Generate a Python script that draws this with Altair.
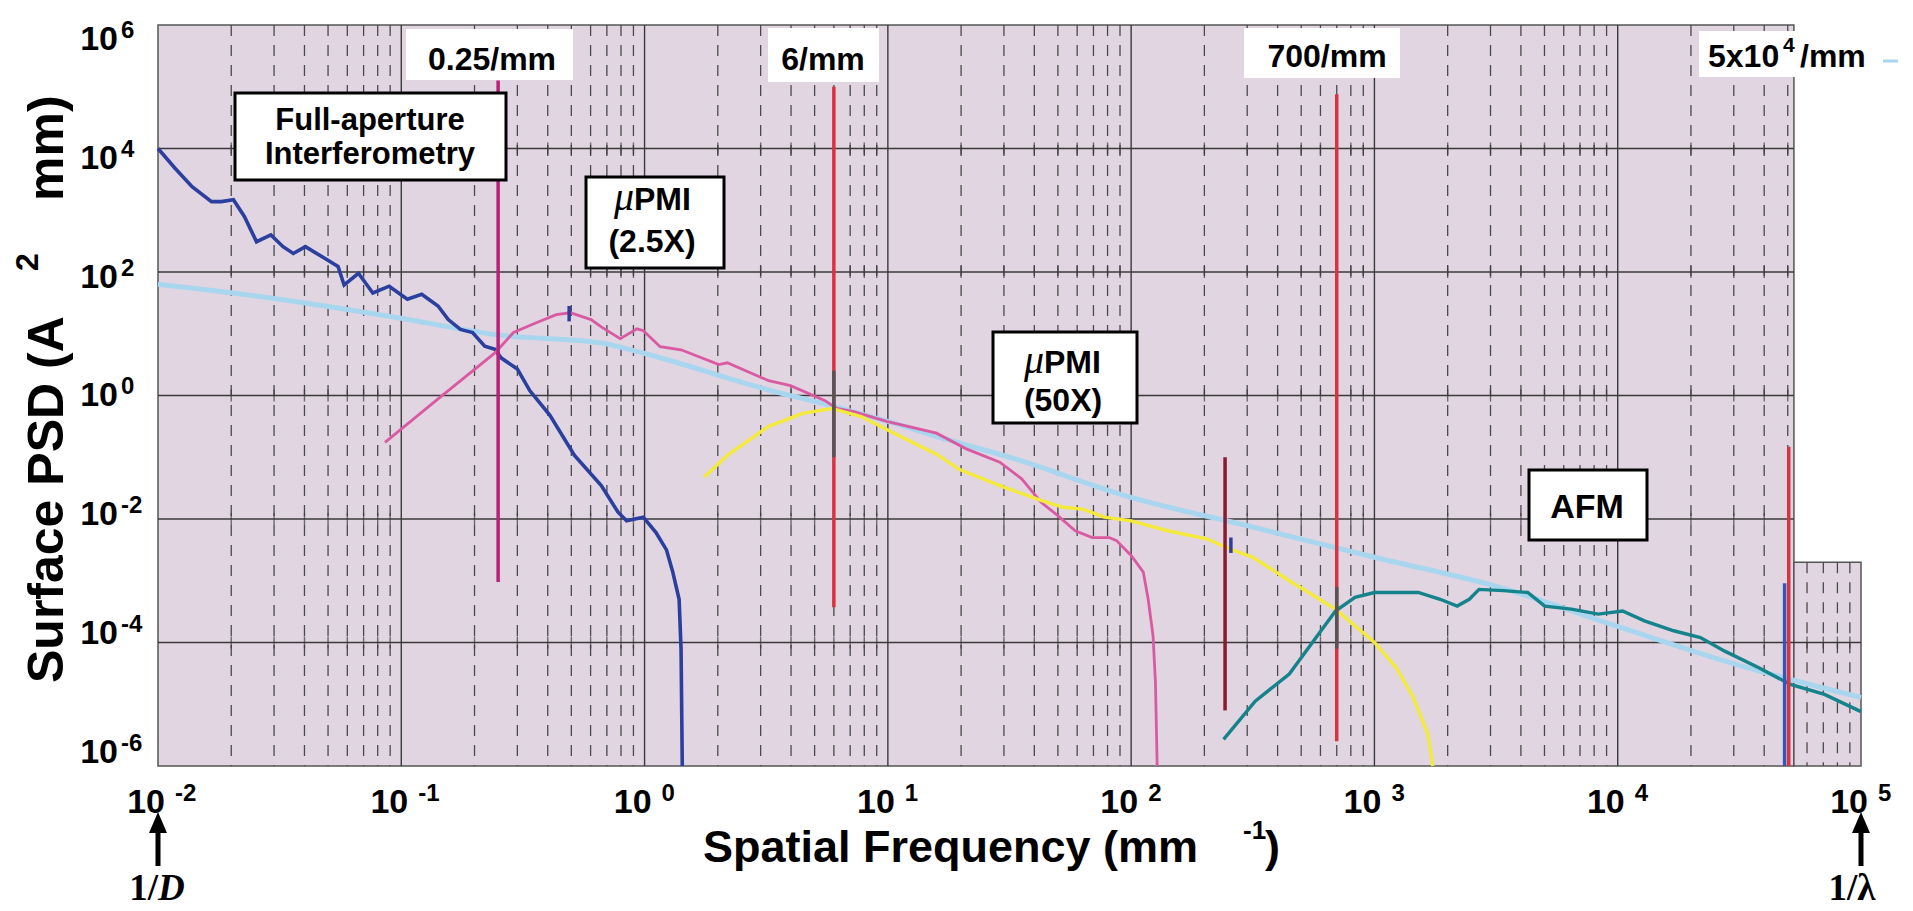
import altair as alt
import pandas as pd

# ---------------- values (log10 of frequency / PSD) ----------------
# Full-aperture interferometry (dark blue)
fa_lx = [-2.0, -1.93, -1.86, -1.78, -1.74, -1.69, -1.645, -1.595, -1.536, -1.486, -1.444, -1.394, -1.327,
         -1.26, -1.235, -1.176, -1.117, -1.05, -0.975, -0.916, -0.849, -0.807, -0.757, -0.707, -0.657, -0.615,
         -0.59, -0.523, -0.472, -0.389, -0.288, -0.178, -0.109, -0.074, -0.04, -0.005, 0.047, 0.09, 0.116,
         0.142, 0.15, 0.155]
fa_ly = [4.0, 3.68, 3.38, 3.14, 3.14, 3.17, 2.9, 2.49, 2.6, 2.41, 2.3, 2.41, 2.25, 2.09, 1.79, 1.98, 1.66,
         1.77, 1.56, 1.64, 1.45, 1.23, 1.07, 1.02, 0.8, 0.75, 0.61, 0.43, 0.08, -0.32, -0.97, -1.46, -1.89,
         -2.03, -2.0, -1.97, -2.22, -2.5, -2.86, -3.3, -4.11, -6.0]
# muPMI 2.5X (pink)
pk_lx = [-1.067, -0.85, -0.615, -0.539, -0.45, -0.363, -0.305, -0.22, -0.178, -0.10, -0.031, -0.005, 0.064,
         0.15, 0.305, 0.34, 0.51, 0.60, 0.74, 0.79, 0.86, 0.995, 1.2, 1.32, 1.46, 1.55, 1.63, 1.70, 1.77, 1.84,
         1.91, 1.94, 2.0, 2.05, 2.07, 2.09, 2.10, 2.107]
pk_ly = [-0.76, -0.06, 0.69, 1.02, 1.17, 1.31, 1.34, 1.23, 1.11, 0.92, 1.08, 1.05, 0.79, 0.74, 0.5, 0.53, 0.24,
         0.16, -0.08, -0.21, -0.26, -0.42, -0.61, -0.86, -1.08, -1.35, -1.73, -1.95, -2.19, -2.3, -2.3, -2.35,
         -2.59, -2.86, -3.3, -3.89, -4.65, -6.0]
# muPMI 50X (yellow)
ye_lx = [0.245, 0.34, 0.51, 0.65, 0.77, 0.89, 1.03, 1.2, 1.29, 1.46, 1.63, 1.72, 1.80, 1.89, 2.0, 2.15, 2.31,
         2.41, 2.5, 2.65, 2.84, 3.0, 3.09, 3.16, 3.22, 3.24]
ye_ly = [-1.32, -0.97, -0.5, -0.29, -0.21, -0.34, -0.62, -0.95, -1.19, -1.46, -1.70, -1.81, -1.84, -1.97, -2.03,
         -2.19, -2.32, -2.49, -2.62, -3.0, -3.46, -4.0, -4.41, -4.89, -5.49, -6.0]
# AFM (teal)
tl_lx = [2.38, 2.51, 2.65, 2.84, 2.92, 3.0, 3.18, 3.27, 3.34, 3.39, 3.43, 3.53, 3.63, 3.70, 3.81, 3.92, 4.02,
         4.11, 4.23, 4.34, 4.44, 4.58, 4.71, 4.85, 5.0]
tl_ly = [-5.57, -4.95, -4.51, -3.49, -3.27, -3.19, -3.19, -3.30, -3.41, -3.30, -3.14, -3.16, -3.19, -3.41, -3.46,
         -3.54, -3.49, -3.65, -3.81, -3.92, -4.14, -4.41, -4.68, -4.84, -5.12]
# fitted model (light blue)
lb_lx = [-2.0, -1.5, -1.0, -0.6, -0.178, 0.0, 0.5, 0.78, 1.0, 1.25, 1.5, 2.0, 2.5, 3.0, 3.5, 4.0, 4.5, 5.0]
lb_ly = [1.80, 1.56, 1.25, 0.98, 0.85, 0.68, 0.1, -0.18, -0.42, -0.72, -1.0, -1.65, -2.13, -2.62, -3.09, -3.74,
         -4.37, -4.89]
# vertical band-limit markers
mk_lx = [-0.602, 0.778, 0.778, 2.386, 2.41, 2.845, 2.845, 4.686, 4.703, -0.31]
mk_y1 = [-3.02, -3.43, -1.0, -5.1, -2.55, -5.6, -4.1, -6.0, -6.0, 1.2]
mk_y2 = [5.1, 5.0, 0.4, -1.0, -2.3, 4.88, -3.1, -3.04, -0.83, 1.45]
mk_kind = ["mag", "red", "gray", "maroon", "navy", "red", "gray", "blue", "red", "navy"]

x_decades = [-2, -1, 0, 1, 2, 3, 4, 5]
y_decades = [6, 4, 2, 0, -2, -4, -6]
x_tick_exp = ["-2", "-1", "0", "1", "2", "3", "4", "5"]
y_tick_exp = [" 6", " 4", " 2", "0", "-2", "-4", "-6"]

# ---------------- layout ----------------
W, H = 1703, 741
PL, PT = 158, 25
SANS = "Liberation Sans, Arial, sans-serif"
SERIF = "Liberation Serif, Times New Roman, serif"
BG = "#e1d5e2"
GRID = "#3a3a3a"
XMAXF = 5.3e4   # right edge of the upper frame
STEPY = 2e-3    # top of the right-hand extension

xs = alt.Scale(type="log", domain=[1e-2, 1e5], nice=False)
ys = alt.Scale(type="log", domain=[1e-6, 1e6], nice=False)


def X(f):
    return alt.X(f, type="quantitative", scale=xs, axis=None)


def Y(f):
    return alt.Y(f, type="quantitative", scale=ys, axis=None)


def curve(lx, ly):
    return pd.DataFrame({"f": [10 ** v for v in lx], "p": [10 ** v for v in ly], "i": list(range(len(lx)))})


def vx(x):  # page pixel -> view pixel
    return alt.value(x - PL)


def vy(y):
    return alt.value(y - PT)


dummy = pd.DataFrame({"a": [0]})
layers = []

# background frame
bg = pd.DataFrame({"x1": [1e-2, XMAXF], "x2": [XMAXF, 1e5], "y1": [1e-6, 1e-6], "y2": [1e6, STEPY]})
layers.append(alt.Chart(bg).mark_rect(fill=BG, stroke="#555555", strokeWidth=1.5).encode(
    x=X("x1"), x2=alt.X2("x2"), y=Y("y1"), y2=alt.Y2("y2")))

# minor dashed verticals
mx, mtop = [], []
for d in range(-2, 5):
    for k in range(2, 10):
        v = k * 10 ** d
        mx.append(v)
        mtop.append(1e6 if v < XMAXF else STEPY)
minor = pd.DataFrame({"x": mx, "top": mtop, "bot": [1e-6] * len(mx)})
layers.append(alt.Chart(minor).mark_rule(color="#4a4a4a", strokeWidth=1.3, strokeDash=[11, 9]).encode(
    x=X("x"), y=Y("top"), y2=alt.Y2("bot")))

# major verticals
majv = pd.DataFrame({"x": [10.0 ** d for d in range(-1, 5)], "t": [1e6] * 6, "b": [1e-6] * 6})
layers.append(alt.Chart(majv).mark_rule(color=GRID, strokeWidth=1.4).encode(
    x=X("x"), y=Y("t"), y2=alt.Y2("b")))
# major horizontals
hy = [1e4, 1e2, 1.0, 1e-2, 1e-4]
majh = pd.DataFrame({"y": hy, "x1": [1e-2] * 5, "x2": [XMAXF if v > STEPY else 1e5 for v in hy]})
layers.append(alt.Chart(majh).mark_rule(color=GRID, strokeWidth=1.6).encode(
    y=Y("y"), x=X("x1"), x2=alt.X2("x2")))
# small crosses where minor lines meet major horizontals
cx, cy = [], []
for v in hy:
    for m in mx:
        if v <= STEPY or m < XMAXF:
            cx.append(m)
            cy.append(v)
cross = pd.DataFrame({"x": cx, "y": cy})
layers.append(alt.Chart(cross).mark_tick(orient="vertical", size=12, thickness=1.4, color=GRID).encode(
    x=X("x"), y=Y("y")))

# curves
for lx, ly, col, sw, interp in [
    (lb_lx, lb_ly, "#a8d6ee", 5, "monotone"),
    (fa_lx, fa_ly, "#2b3f9e", 3.6, "linear"),
    (pk_lx, pk_ly, "#da5aa2", 2.8, "linear"),
    (ye_lx, ye_ly, "#f3ea3c", 3.4, "linear"),
    (tl_lx, tl_ly, "#14838b", 3.4, "linear"),
]:
    layers.append(alt.Chart(curve(lx, ly)).mark_line(color=col, strokeWidth=sw, interpolate=interp).encode(
        x=X("f"), y=Y("p"), order="i:Q"))

# vertical markers
mk = pd.DataFrame({"x": [10 ** v for v in mk_lx], "y1": [10 ** v for v in mk_y1],
                   "y2": [10 ** v for v in mk_y2], "kind": mk_kind})
layers.append(alt.Chart(mk).mark_rule(strokeWidth=3.5).encode(
    x=X("x"), y=Y("y1"), y2=alt.Y2("y2"),
    color=alt.Color("kind:N", legend=None, scale=alt.Scale(
        domain=["mag", "red", "gray", "maroon", "navy", "blue"],
        range=["#b8217a", "#d8333f", "#555555", "#8a1a2c", "#2b3f9e", "#3556b8"]))))


# ---------------- annotations (page pixel positions) ----------------
def box(x1, x2, y1, y2, border=True):
    kw = dict(fill="white")
    if border:
        kw.update(stroke="black", strokeWidth=3)
    return alt.Chart(dummy).mark_rect(**kw).encode(x=vx(x1), x2=vx(x2), y=vy(y1), y2=vy(y2))


def txt(s, x, y, size, font=SANS, weight="bold", align="center", style="normal", angle=0, baseline="alphabetic"):
    kw = dict(text=s, font=font, fontSize=size, fontWeight=weight, align=align, fontStyle=style,
              baseline=baseline, color="black")
    if angle:
        kw["angle"] = angle
    return alt.Chart(dummy).mark_text(**kw).encode(x=vx(x), y=vy(y))


# top band-limit labels
layers += [box(406, 573, 29, 80, False), txt("0.25/mm", 492, 70, 32)]
layers += [box(768, 879, 28, 82, False), txt("6/mm", 823, 70, 32)]
layers += [box(1244, 1400, 28, 78, False), txt("700/mm", 1327, 67, 32)]
layers += [box(1699, 1880, 31, 77, False), txt("5x10", 1708, 67, 32, align="left"),
           txt("4", 1783, 52, 21, align="left"), txt("/mm", 1800, 67, 32, align="left")]
# short light-blue stroke to the right of the last label
layers.append(alt.Chart(dummy).mark_rule(color="#a8d6ee", strokeWidth=3).encode(
    x=vx(1883), x2=vx(1898), y=vy(61)))

# instrument labels
layers += [box(235, 506, 93, 180), txt("Full-aperture", 370, 130, 31), txt("Interferometry", 370, 164, 31)]
layers += [box(586, 724, 177, 268), txt("\u03bc", 634, 210, 40, font=SERIF, weight="normal", style="italic",
                                         align="right"),
           txt("PMI", 634, 210, 32, align="left"), txt("(2.5X)", 652, 252, 32)]
layers += [box(993, 1137, 332, 423), txt("\u03bc", 1044, 373, 40, font=SERIF, weight="normal", style="italic",
                                          align="right"),
           txt("PMI", 1044, 373, 32, align="left"), txt("(50X)", 1063, 411, 32)]
layers += [box(1529, 1647, 470, 540), txt("AFM", 1587, 518, 34)]

# x tick labels
xt = pd.DataFrame({"x": [10.0 ** d for d in x_decades], "e": x_tick_exp})
layers.append(alt.Chart(xt).mark_text(text="10", font=SANS, fontSize=34, fontWeight="bold", align="right",
                                      dx=7, color="black").encode(x=X("x"), y=vy(803)))
layers.append(alt.Chart(xt).mark_text(font=SANS, fontSize=24, fontWeight="bold", align="left", dx=17,
                                      color="black").encode(x=X("x"), y=vy(794), text="e:N"))
# y tick labels (baselines spread slightly tighter than the grid)
for i, (d, e) in enumerate(zip(y_decades, y_tick_exp)):
    yb = 50 + i * 118.8
    layers += [txt("10", 118, yb, 34, align="right"), txt(e, 121, yb - 12, 24, align="left")]

# axis titles
layers += [txt("Spatial Frequency (mm", 703, 862, 45, align="left"), txt("-1", 1243, 839, 26, align="left"),
           txt(")", 1265, 862, 45, align="left")]
layers += [txt("Surface PSD (A", 63, 683, 50, align="left", angle=270),
           txt("2", 38, 262, 32, align="center", angle=270),
           txt("mm)", 63, 201, 50, align="left", angle=270)]

# 1/D and 1/lambda arrows
arr = pd.DataFrame({"x": [1e-2, 1e5]})
layers.append(alt.Chart(arr).mark_rule(color="black", strokeWidth=5).encode(
    x=X("x"), y=vy(866), y2=vy(828)))
layers.append(alt.Chart(arr).mark_point(shape="M-0.9,1L0,-1.1L0.9,1Z", size=400, filled=True, opacity=1,
                                        color="black").encode(x=X("x"), y=vy(823)))
layers += [txt("1/", 158, 900, 37, font=SERIF, align="right"),
           txt("D", 158, 900, 37, font=SERIF, align="left", style="italic"),
           txt("1/\u03bb", 1852, 900, 37, font=SERIF)]

chart = alt.layer(*layers).properties(
    width=W, height=H, padding={"left": PL, "top": PT, "right": 1913 - PL - W, "bottom": 911 - PT - H},
    autosize=alt.AutoSizeParams(type="none"), background="white"
).configure_view(stroke=None)

chart.save("out.html", embed_options={"renderer": "svg", "actions": False})
